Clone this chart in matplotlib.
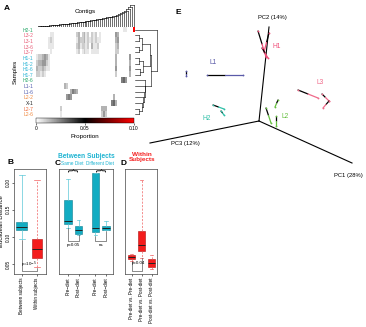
import numpy as np
import matplotlib
matplotlib.use("Agg")
import matplotlib.pyplot as plt
from matplotlib.colors import LinearSegmentedColormap

plt.rcParams['font.family'] = ['Liberation Sans', 'DejaVu Sans']

W, H = 366, 327

# ---- panel A data ----
samples = ["H2-1", "L3-2", "L3-1", "L3-6", "L3-7", "H1-1", "H1-2", "H1-6", "H1-7",
           "H2-6", "L1-1", "L1-6", "L2-2", "X-1", "L2-7", "L2-6"]
sample_colors = ["#2aa86a", "#e8607a", "#e8607a", "#e8607a", "#e8607a",
                 "#2fb6d6", "#2fb6d6", "#2fb6d6", "#2fb6d6", "#2aa86a",
                 "#5560b0", "#5560b0", "#f08a40", "#222222", "#f06a3a", "#f08a40"]
# one char per contig column: digit d -> d*0.005, R -> 0.10
heat_rows = [
    "0000000000 0000000000 0000000000 0000000000 000011000R",
    "0000000110 0000000000 2302312021 2010000000 4300000000",
    "0000001210 0000000000 1322312121 2110000000 3400000000",
    "0000001110 0000000000 2312212031 1200000000 2300000000",
    "0000000100 0000000000 1201211011 1100000000 2200000000",
    "1223431000 0000000000 0000000000 0000000000 3000000400",
    "2334421000 0000000000 0000000000 0000000000 3000000300",
    "3223211000 0000000000 0000000000 0000000000 4000000400",
    "2212100000 0000000000 0000000000 0000000000 2000000300",
    "0000000000 0000000000 0000000000 0000000000 0005640000",
    "0000000000 0000320000 0000000000 0000000000 0000000000",
    "0000000000 0000000354 3000000000 0000000000 0000000000",
    "0000000000 0000045400 0000000000 0000000003 0000000000",
    "0000000000 0000000000 0000000000 0000000056 3000000000",
    "0000000000 0020000000 0000000000 0003330000 0000000000",
    "0000000000 0010000000 0000000000 0002420000 0000000000",
]
# contig tree: heights at which each next contig joins (ladder)
contig_heights = [0.5, 0.8, 1.0, 1.0, 1.3, 1.5, 1.5, 1.8, 2.0, 2.2,
                  2.4, 2.5, 2.8, 3.0, 3.0, 3.3, 3.5, 3.8, 4.0, 4.2,
                  4.5, 4.6, 4.9, 5.2, 5.5, 5.7, 6.0, 6.3, 6.6, 7.0,
                  7.3, 7.6, 8.0, 8.4, 8.8, 9.2, 9.6, 10.0, 10.5, 11.0,
                  11.5, 12.2, 13.0, 14.0, 15.0, 16.5, 18.0, 20.0, 22.0]
# sample tree (leaf ids in display order, new ids from 16)
sample_merges = [(1, 2, 1.5), (3, 4, 1.5), (16, 17, 3.0),
                 (5, 6, 1.5), (7, 8, 2.0), (19, 20, 3.2),
                 (18, 21, 6.0),
                 (14, 15, 1.5), (13, 23, 3.0), (12, 24, 3.5), (11, 25, 3.8),
                 (10, 26, 4.0), (9, 27, 4.3),
                 (22, 28, 6.5), (0, 29, 9.0)]

# ---- panels B-D data (box stats) ----
b_labels = ["Between subjects", "Within subjects"]
b_q1 = [0.1135, 0.061]
b_med = [0.119, 0.0775]
b_q3 = [0.128, 0.0955]
b_lo = [0.0955, 0.044]
b_hi = [0.2145, 0.204]

c_labels = ["Pre\u2212diet", "Post\u2212diet", "Pre\u2212diet", "Post\u2212diet"]
c_q1 = [0.1244, 0.106, 0.110, 0.1135]
c_med = [0.1298, 0.1135, 0.117, 0.117]
c_q3 = [0.1677, 0.1208, 0.218, 0.1208]
c_lo = [0.117, 0.1045, 0.103, 0.112]
c_hi = [0.207, 0.1316, 0.218, 0.130]

d_labels = ["Pre-diet vs. Pre-diet", "Pre-diet vs. Post-diet", "Post-diet vs. Post-diet"]
d_q1 = [0.059, 0.0738, 0.045]
d_med = [0.063, 0.0847, 0.0522]
d_q3 = [0.0666, 0.1117, 0.059]
d_lo = [0.056, 0.0612, 0.0414]
d_hi = [0.069, 0.204, 0.0666]

# ---- panel E data (projected PCA coordinates) ----
pc_names = ["PC1 (28%)", "PC2 (14%)", "PC3 (12%)"]
pc_ends = [(93, -42), (10, 94), (-109, -22)]
pc_label_pos = [(89, -55), (13, 103), (-74, -22)]
groups = ["H1", "L1", "L3", "H2", "L2"]
group_colors = ["#f0507a", "#5a5aa8", "#f06a8a", "#30c0a8", "#66c040"]
group_label_pos = [(18, 74), (-46, 59), (61, 39), (-52, 3), (26, 4)]
pre_points = [[(-1, 90), (10, 88), (3, 73)],
              [(-52, 46), (-73, 50)],
              [(39, 31), (63, 27), (70, 20)],
              [(-46, 16), (-38, 10)],
              [(7, 13), (19, 21), (17, 5)]]
post_points = [[(7, 64), (5, 69), (9, 63)],
               [(-16, 46), (-73, 45)],
               [(59, 23), (70, 20), (64, 13)],
               [(-35, 12), (-35, 6)],
               [(12, -2), (16, 14), (17, -5)]]


def rect(l, t, r, b):
    return [l / W, 1 - b / H, (r - l) / W, (b - t) / H]


def tree_segments(n, merges):
    pos = {i: float(i) for i in range(n)}
    hgt = {i: 0.0 for i in range(n)}
    segs = []
    for k, (a, b, h) in enumerate(merges):
        segs.append(([pos[a], pos[a]], [hgt[a], h]))
        segs.append(([pos[b], pos[b]], [hgt[b], h]))
        segs.append(([pos[a], pos[b]], [h, h]))
        pos[n + k] = (pos[a] + pos[b]) / 2
        hgt[n + k] = h
    return segs


fig = plt.figure(figsize=(W / 100, H / 100), dpi=100)

# heatmap
heat = np.array([[0.10 if ch == "R" else int(ch) * 0.005 for ch in row.replace(" ", "")]
                 for row in heat_rows])
cmap = LinearSegmentedColormap.from_list("wbr", [(0, "white"), (0.5, "black"), (1, "red")])
ax_h = fig.add_axes(rect(36, 27, 135, 117))
im = ax_h.imshow(heat, aspect="auto", cmap=cmap, vmin=0, vmax=0.10, interpolation="nearest")
ax_h.set_xticks([])
ax_h.set_yticks(range(len(samples)))
ax_h.set_yticklabels(samples, fontsize=3.6)
for lab, c in zip(ax_h.get_yticklabels(), sample_colors):
    lab.set_color(c)
ax_h.tick_params(axis="y", length=0, pad=2)
for s in ax_h.spines.values():
    s.set_visible(False)
fig.text(15 / W, 1 - 72 / H, "Samples", rotation=90, fontsize=4.5, ha="center", va="center")

# contig dendrogram
n_col = heat.shape[1]
col_merges = [(0, 1, contig_heights[0])]
for i in range(1, n_col - 1):
    col_merges.append((n_col + i - 1, i + 1, contig_heights[i]))
ax_cd = fig.add_axes(rect(36, 4, 135, 27))
for xs, ys in tree_segments(n_col, col_merges):
    ax_cd.plot(xs, ys, color="black", lw=0.4)
ax_cd.set_xlim(-0.5, n_col - 0.5)
ax_cd.set_ylim(0, 23)
ax_cd.axis("off")
fig.text(85 / W, 1 - 12 / H, "Contigs", fontsize=4.5, ha="center", va="center")

# sample dendrogram
ax_rd = fig.add_axes(rect(135, 27, 158, 117))
for xs, ys in tree_segments(len(samples), sample_merges):
    ax_rd.plot(ys, xs, color="black", lw=0.4)
ax_rd.set_ylim(len(samples) - 0.5, -0.5)
ax_rd.set_xlim(0, 9.5)
ax_rd.axis("off")

# colour bar
cax = fig.add_axes(rect(36, 118, 134, 123))
cb = fig.colorbar(im, cax=cax, orientation="horizontal", ticks=[0, 0.05, 0.10])
cb.ax.set_xticklabels(["0", "0.05", "0.10"])
cb.ax.tick_params(labelsize=3.5, length=1.5, width=0.4, pad=1)
cb.outline.set_linewidth(0.3)
cb.set_label("Proportion", fontsize=4.5, labelpad=2)

fig.text(4 / W, 1 - 8 / H, "A", fontsize=6, fontweight="bold", va="center")
fig.text(7 / W, 1 - 162 / H, "B", fontsize=6, fontweight="bold", va="center")
fig.text(55 / W, 1 - 163 / H, "C", fontsize=6, fontweight="bold", va="center")
fig.text(121 / W, 1 - 163 / H, "D", fontsize=6, fontweight="bold", va="center")
fig.text(175 / W, 1 - 13 / H, "E", fontsize=6, fontweight="bold", va="center")

CYAN, CYAN_E, CYAN_W = "#13acc2", "#0f7f91", "#5cc8d8"
RED, RED_E, RED_W = "#f41c1c", "#b01010", "#f06060"
YLIM = (0.032, 0.225)


def boxes(ax, q1, med, q3, lo, hi, pos, face, edge, whisk, ls, width):
    stats = [dict(q1=a, med=m, q3=b, whislo=l, whishi=h)
             for a, m, b, l, h in zip(q1, med, q3, lo, hi)]
    ax.bxp(stats, positions=pos, widths=width, showfliers=False, patch_artist=True,
           capwidths=width * 0.5,
           boxprops=dict(facecolor=face, edgecolor=edge, lw=0.4),
           medianprops=dict(color="#222222", lw=0.7),
           whiskerprops=dict(color=whisk, lw=0.5, ls=ls),
           capprops=dict(color=whisk, lw=0.5))


def style(ax, labels, pos):
    ax.set_ylim(*YLIM)
    ax.set_xticks(pos)
    ax.set_xticklabels(labels, rotation=90, fontsize=3.3)
    ax.tick_params(axis="x", length=1.5, width=0.4, pad=1)
    for s in ax.spines.values():
        s.set_linewidth(0.5)
        s.set_color("#444444")


# B
ax_b = fig.add_axes(rect(14, 169, 46, 274))
boxes(ax_b, b_q1[:1], b_med[:1], b_q3[:1], b_lo[:1], b_hi[:1], [1], CYAN, CYAN_E, CYAN_W, "-", 0.73)
boxes(ax_b, b_q1[1:], b_med[1:], b_q3[1:], b_lo[1:], b_hi[1:], [2], RED, RED_E, RED_W, (0, (3, 2)), 0.73)
style(ax_b, b_labels, [1, 2])
ax_b.set_xlim(0.47, 2.6)
ax_b.set_yticks([0.05, 0.10, 0.15, 0.20])
ax_b.set_yticklabels(["0.05", "0.10", "0.15", "0.20"], rotation=90, va="center", fontsize=3.4)
ax_b.tick_params(axis="y", length=1.5, width=0.4, pad=1)
ax_b.set_ylabel("Euclidean Distance", fontsize=4.3, labelpad=1)
ax_b.plot([1, 1, 2, 2], [0.094, 0.038, 0.038, 0.043], color="#333333", lw=0.4)
ax_b.text(1.5, 0.039, "p=10$^{-5}$", fontsize=3.2, ha="center", va="bottom")

# C
c_pos = [1, 2, 3.6, 4.6]
ax_c = fig.add_axes(rect(59, 169, 113, 274))
boxes(ax_c, c_q1, c_med, c_q3, c_lo, c_hi, c_pos, CYAN, CYAN_E, CYAN_W, "-", 0.7)
style(ax_c, c_labels, c_pos)
ax_c.set_xlim(0.14, 5.27)
ax_c.set_yticks([])
ax_c.plot([1, 1, 2, 2], [0.116, 0.093, 0.093, 0.104], color="#333333", lw=0.4)
ax_c.text(1.5, 0.089, "p=0.05", fontsize=3.2, ha="center", va="top")
ax_c.plot([3.6, 3.6, 4.6, 4.6], [0.102, 0.093, 0.093, 0.111], color="#333333", lw=0.4)
ax_c.text(4.1, 0.089, "ns", fontsize=3.2, ha="center", va="top")
fig.text(86 / W, 1 - 156 / H, "Between Subjects", fontsize=4.8, color="#1fb4d2",
         ha="center", va="center", fontweight="bold")
fig.text(72 / W, 1 - 163 / H, "Same Diet", fontsize=3.4, color="#1fb4d2", ha="center", va="center")
fig.text(100 / W, 1 - 163 / H, "Different Diet", fontsize=3.4, color="#1fb4d2", ha="center", va="center")
fig.text(72 / W, 1 - 170 / H, "{", fontsize=8, rotation=-90, ha="center", va="center")
fig.text(100 / W, 1 - 170 / H, "{", fontsize=8, rotation=-90, ha="center", va="center")

# D
d_pos = [1, 2, 3]
ax_d = fig.add_axes(rect(125, 169, 157, 274))
boxes(ax_d, d_q1, d_med, d_q3, d_lo, d_hi, d_pos, RED, RED_E, RED_W, (0, (3, 2)), 0.75)
style(ax_d, d_labels, d_pos)
ax_d.set_xlim(0.35, 3.55)
ax_d.set_yticks([])
ax_d.plot([1, 1, 2, 2], [0.056, 0.037, 0.037, 0.061], color="#333333", lw=0.4)
ax_d.text(1.7, 0.052, "p=0.04", fontsize=3.2, ha="center", va="center")
fig.text(142 / W, 1 - 157 / H, "Within\nSubjects", fontsize=4.6, color="#f42020",
         ha="center", va="center", fontweight="bold", linespacing=1.0)

# E
ax_e = fig.add_axes(rect(140, 0, 366, 200))
ax_e.set_xlim(-119, 107)
ax_e.set_ylim(-79, 121)
ax_e.axis("off")
for name, end, lp in zip(pc_names, pc_ends, pc_label_pos):
    ax_e.plot([0, end[0]], [0, end[1]], color="black", lw=0.8)
    ax_e.text(lp[0], lp[1], name, fontsize=4.2, ha="center", va="center")
for g, col, lp, pre, post in zip(groups, group_colors, group_label_pos, pre_points, post_points):
    ax_e.text(lp[0], lp[1], g, fontsize=4.8, color=col, ha="center", va="center")
    for (x0, y0), (x1, y1) in zip(pre, post):
        xm, ym = (x0 + x1) / 2, (y0 + y1) / 2
        ax_e.plot([x0, xm], [y0, ym], color="black", lw=0.9, solid_capstyle="round")
        ax_e.plot([xm, x1], [ym, y1], color=col, lw=0.9, solid_capstyle="round")
        ax_e.plot([x0, x1], [y0, y1], "o", color=col, ms=1.3, mec="none")

fig.savefig("out.png", dpi=100)
